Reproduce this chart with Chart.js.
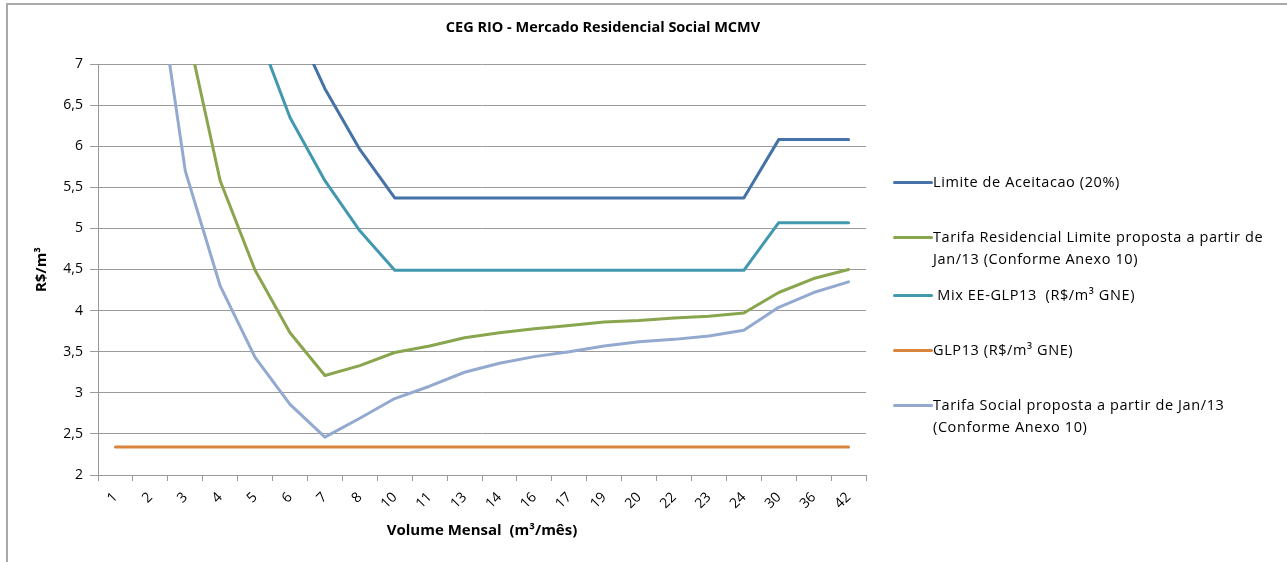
<!DOCTYPE html>
<html>
<head>
<meta charset="utf-8">
<title>CEG RIO - Mercado Residencial Social MCMV</title>
<script src="https://cdn.jsdelivr.net/npm/chart.js@4.4.1/dist/chart.umd.min.js"></script>
<style>
  body { margin: 0; background: #fff; font-family: "Open Sans", sans-serif; }
  #wrap { position: relative; width: 1287px; height: 562px; overflow: hidden; }
  #frame { position: absolute; left: 6px; top: 3px; right: -10px; bottom: -10px;
           border-left: 2px solid #a9a9a9; border-top: 2px solid #a9a9a9; }
  #title { position: absolute; top: 17px; left: 403px; width: 400px; text-align: center;
           font-weight: bold; font-size: 14.5px; color: #000; }
  canvas { position: absolute; left: 0; top: 0; }
  .item { position: absolute; left: 893px; display: flex; }
  .swatch { width: 40px; height: 3px; margin-top: 10px; border-radius: 2px; }
  .text { font-size: 14.5px; line-height: 22px; letter-spacing: 0.6px; white-space: pre; color: #000; }
</style>
</head>
<body>
<div id="wrap">
  <div id="frame"></div>
  <canvas id="chart" width="1287" height="562"></canvas>
  <div id="title">CEG RIO - Mercado Residencial  Social MCMV</div>
  <div id="legend"></div>
</div>
<script>
// Data
const volumes = ["1", "2", "3", "4", "5", "6", "7", "8", "10", "11", "13", "14", "16", "17", "19", "20", "22", "23", "24", "30", "36", "42"];

const limiteAceitacao = [40.7, 20.9, 14.3, 10.9, 8.96, 7.62, 6.70, 5.96, 5.37, 5.37, 5.37, 5.37, 5.37, 5.37, 5.37, 5.37, 5.37, 5.37, 5.37, 6.08, 6.08, 6.08];
const tarifaResidencial = [20.0, 11.0, 7.52, 5.58, 4.49, 3.73, 3.21, 3.33, 3.49, 3.57, 3.67, 3.73, 3.78, 3.82, 3.86, 3.88, 3.91, 3.93, 3.97, 4.22, 4.39, 4.50];
const mixEeGlp13 = [33.9, 17.4, 11.9, 9.12, 7.47, 6.35, 5.58, 4.97, 4.49, 4.49, 4.49, 4.49, 4.49, 4.49, 4.49, 4.49, 4.49, 4.49, 4.49, 5.07, 5.07, 5.07];
const glp13 = [2.34, 2.34, 2.34, 2.34, 2.34, 2.34, 2.34, 2.34, 2.34, 2.34, 2.34, 2.34, 2.34, 2.34, 2.34, 2.34, 2.34, 2.34, 2.34, 2.34, 2.34, 2.34];
const tarifaSocial = [17.0, 8.61, 5.70, 4.30, 3.43, 2.86, 2.46, 2.69, 2.93, 3.08, 3.25, 3.36, 3.44, 3.50, 3.57, 3.62, 3.65, 3.69, 3.76, 4.04, 4.22, 4.35];

const yTicks = { min: 2, max: 7, step: 0.5 };

const series = [
  { label: "Limite de Aceitacao (20%)", data: limiteAceitacao, color: "#4572A7" },
  { label: "Tarifa Residencial Limite proposta a partir de\nJan/13 (Conforme Anexo 10)", data: tarifaResidencial, color: "#89A54E" },
  { label: " Mix EE-GLP13  (R$/m³ GNE)", data: mixEeGlp13, color: "#4198AF" },
  { label: "GLP13 (R$/m³ GNE)", data: glp13, color: "#DB843D" },
  { label: "Tarifa Social proposta a partir de Jan/13\n(Conforme Anexo 10)", data: tarifaSocial, color: "#93A9CF" },
];

// legend rows (top of first text line)
const legendTops = [171, 226, 284, 339, 394];

const gridColor = "#9a9a9a";
const font = "'Open Sans', sans-serif";

new Chart(document.getElementById("chart"), {
  type: "line",
  data: {
    labels: volumes,
    datasets: series.map((s) => ({
      label: s.label,
      data: s.data,
      borderColor: s.color,
      backgroundColor: s.color,
      borderWidth: 3,
      pointRadius: 0,
      pointHoverRadius: 0,
      tension: 0,
      borderJoinStyle: "round",
      borderCapStyle: "round",
    })),
  },
  options: {
    responsive: false,
    animation: false,
    layout: {
      padding: { left: 0, right: 421, top: 64, bottom: 0 },
    },
    plugins: {
      legend: { display: false },
      title: { display: false },
      tooltip: { enabled: false },
    },
    scales: {
      x: {
        offset: true,
        grid: { display: true, drawOnChartArea: false, offset: true, tickLength: 6, color: gridColor },
        border: { display: true, color: gridColor },
        ticks: {
          autoSkip: false,
          minRotation: 45,
          maxRotation: 45,
          padding: 8,
          color: "#000",
          font: { family: font, size: 14 },
        },
        title: {
          display: true,
          text: "Volume Mensal  (m³/mês)",
          color: "#000",
          font: { family: font, size: 15, weight: "bold" },
          padding: { top: 0, bottom: 22 },
        },
        afterFit: (scale) => {
          scale.height = 87;
        },
      },
      y: {
        min: yTicks.min,
        max: yTicks.max,
        grid: { color: gridColor, tickLength: 8 },
        border: { display: true, color: gridColor },
        ticks: {
          stepSize: yTicks.step,
          padding: 7,
          color: "#000",
          font: { family: font, size: 14 },
          callback: (value) => String(value).replace(".", ","),
        },
        title: {
          display: true,
          text: "R$/m³",
          color: "#000",
          font: { family: font, size: 15, weight: "bold" },
          padding: { top: 33, bottom: 0 },
        },
        afterFit: (scale) => {
          scale.width = 98;
        },
      },
    },
  },
});

// Legend
const legend = document.getElementById("legend");
series.forEach((s, i) => {
  const item = document.createElement("div");
  item.className = "item";
  item.style.top = legendTops[i] + "px";
  const swatch = document.createElement("div");
  swatch.className = "swatch";
  swatch.style.background = s.color;
  const text = document.createElement("div");
  text.className = "text";
  text.textContent = s.label;
  item.appendChild(swatch);
  item.appendChild(text);
  legend.appendChild(item);
});
</script>
</body>
</html>
